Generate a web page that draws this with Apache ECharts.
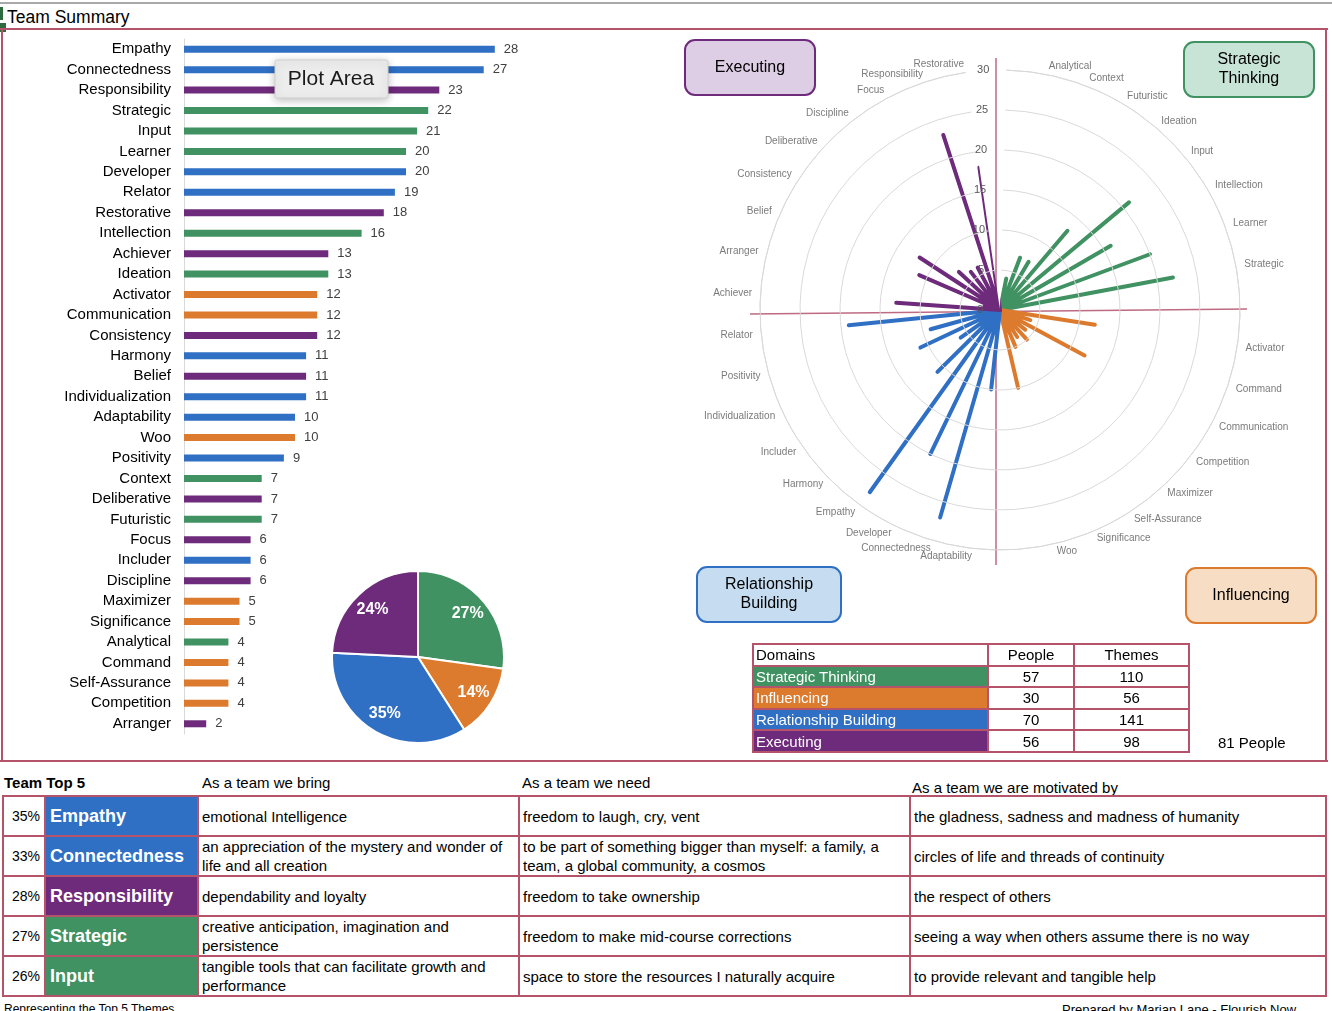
<!DOCTYPE html>
<html><head><meta charset="utf-8">
<script src="https://cdn.jsdelivr.net/npm/echarts@6/dist/echarts.min.js"></script>
<style>
html,body{margin:0;padding:0;background:#fff;font-family:'Liberation Sans',Arial,sans-serif;color:#000;}
#wrap{position:relative;width:1332px;height:1011px;overflow:hidden;background:#fff;}
#chart{position:absolute;left:0;top:0;width:1332px;height:770px;}
.abs{position:absolute;}
table{border-collapse:collapse;table-layout:fixed;}
#dom td{border:2px solid #B4536A;font-size:15px;height:19.6px;padding:0 2px;line-height:19px;white-space:nowrap;overflow:hidden;}
#top5 td{border:2px solid #B4536A;font-size:15px;height:38px;padding:0 3px;line-height:19px;vertical-align:middle;}
#top5 td.pct{text-align:right;font-size:14px;padding-right:4px;}
#top5 td.nm{color:#fff;font-weight:bold;font-size:18px;padding-left:4px;}
</style></head>
<body><div id="wrap">
<div class="abs" style="left:0;top:2px;width:1332px;height:2px;background:#A9A9A9"></div>
<div class="abs" style="left:0;top:7px;width:3px;height:13px;background:#2E6B3F"></div>
<div class="abs" style="left:0;top:23px;width:6px;height:9px;background:#2E6B3F"></div>
<div class="abs" style="left:7px;top:7px;font-size:17.5px;">Team Summary</div>
<div class="abs" style="left:0;top:28px;width:1328px;height:2px;background:#B4536A"></div>
<div class="abs" style="left:1px;top:28px;width:2px;height:733px;background:#B4536A"></div>
<div class="abs" style="left:1325px;top:28px;width:2px;height:733px;background:#B4536A"></div>
<div class="abs" style="left:0;top:760px;width:1328px;height:2px;background:#B4536A"></div>
<div id="chart"></div>
<table id="dom" class="abs" style="left:752px;top:643px;width:436px;"></table>
<div class="abs" style="left:1218px;top:734px;font-size:15px;">81 People</div>
<div class="abs" style="left:4px;top:774px;font-size:15px;font-weight:bold;">Team Top 5</div>
<div class="abs" style="left:202px;top:774px;font-size:15px;">As a team we bring</div>
<div class="abs" style="left:522px;top:774px;font-size:15px;">As a team we need</div>
<div class="abs" style="left:912px;top:779px;font-size:15px;">As a team we are motivated by</div>
<table id="top5" class="abs" style="left:2px;top:795px;width:1325px;"></table>
<div class="abs" style="left:4px;top:1002px;font-size:12px;">Representing the Top 5 Themes</div>
<div class="abs" style="left:1062px;top:1002px;font-size:13px;">Prepared by Marian Lane - Flourish Now</div>
</div>
<script>
// ---- data ----
const barThemes = ['Empathy','Connectedness','Responsibility','Strategic','Input','Learner','Developer','Relator','Restorative','Intellection','Achiever','Ideation','Activator','Communication','Consistency','Harmony','Belief','Individualization','Adaptability','Woo','Positivity','Context','Deliberative','Futuristic','Focus','Includer','Discipline','Maximizer','Significance','Analytical','Command','Self-Assurance','Competition','Arranger'];
const barValues = [28,27,23,22,21,20,20,19,18,16,13,13,12,12,12,11,11,11,10,10,9,7,7,7,6,6,6,5,5,4,4,4,4,2];
const barDomains = ['RB','RB','EX','ST','ST','ST','RB','RB','EX','ST','EX','ST','IN','IN','EX','RB','EX','RB','RB','IN','RB','ST','EX','ST','EX','RB','EX','IN','IN','ST','IN','IN','IN','EX'];
const radarCategories = ['','Analytical','Context','Futuristic','Ideation','Input','Intellection','Learner','Strategic',' ','Activator','Command','Communication','Competition','Maximizer','Self-Assurance','Significance','Woo','  ','Adaptability','Connectedness','Developer','Empathy','Harmony','Includer','Individualization','Positivity','Relator','Achiever','Arranger','Belief','Consistency','Deliberative','Discipline','Focus','Responsibility','Restorative'];
const radiusTicks = [0,5,10,15,20,25,30];
const domainKeys = ['ST','IN','RB','EX'];
const domainNames = ['Strategic Thinking','Influencing','Relationship Building','Executing'];
const domainPeople = [57,30,70,56];
const domainThemes = [110,56,141,98];
const totalPeople = 81;
const top5Pct = ['35%','33%','28%','27%','26%'];
const top5Names = ['Empathy','Connectedness','Responsibility','Strategic','Input'];
const top5Domain = ['RB','RB','EX','ST','ST'];
const top5Bring = ['emotional Intelligence','an appreciation of the mystery and wonder of life and all creation','dependability and loyalty','creative anticipation, imagination and persistence','tangible tools that can facilitate growth and performance'];
const top5Need = ['freedom to laugh, cry, vent','to be part of something bigger than myself: a family, a team, a global community, a cosmos','freedom to take ownership','freedom to make mid-course corrections','space to store the resources I naturally acquire'];
const top5Motivated = ['the gladness, sadness and madness of humanity','circles of life and threads of continuity','the respect of others','seeing a way when others assume there is no way','to provide relevant and tangible help'];

// ---- styles ----
const COL = {ST:'#409262', IN:'#DC7A2E', RB:'#2F6FC4', EX:'#6E2B7B'};
const LABEL_R = 31;

// tables
const dom = document.getElementById('dom');
let h = '<colgroup><col style="width:235px"><col style="width:86px"><col style="width:115px"></colgroup>';
h += '<tr><td>Domains</td><td style="text-align:center">People</td><td style="text-align:center">Themes</td></tr>';
domainKeys.forEach((k,i)=>{
  h += `<tr><td style="background:${COL[k]};color:#fff">${domainNames[i]}</td><td style="text-align:center">${domainPeople[i]}</td><td style="text-align:center">${domainThemes[i]}</td></tr>`;
});
dom.innerHTML = h;
const t5 = document.getElementById('top5');
let h2 = '';
top5Names.forEach((n,i)=>{
  h2 += `<tr><td class="pct" style="width:33px">${top5Pct[i]}</td><td class="nm" style="width:144px;background:${COL[top5Domain[i]]}">${n}</td><td style="width:313px">${top5Bring[i]}</td><td style="width:383px">${top5Need[i]}</td><td>${top5Motivated[i]}</td></tr>`;
});
t5.innerHTML = h2;

// ---- chart ----
const chart = echarts.init(document.getElementById('chart'), null, {renderer:'canvas'});
const valueOf = {}; const domOf = {};
barThemes.forEach((t,i)=>{valueOf[t]=barValues[i]; domOf[t]=barDomains[i];});

const polarSeries = domainKeys.map(k=>{
  const d = [];
  radarCategories.forEach((c,idx)=>{
    if (domOf[c]===k){ d.push([0,idx]); d.push([valueOf[c],idx]); }
  });
  return {type:'line', coordinateSystem:'polar', data:d, symbol:'none', silent:true, clip:false,
    lineStyle:{color:COL[k], width:4, cap:'round', join:'round'}, z:3};
});
const half = radarCategories.length/2;
const labelData = [];
radarCategories.forEach((c,idx)=>{
  if (c.trim()) labelData.push({value:[LABEL_R, idx], name:c,
    label:{position: idx < half ? 'right' : 'left'}});
});
const labelSeries = {
  type:'scatter', coordinateSystem:'polar', symbol:'circle', symbolSize:1, silent:true, clip:false, z:4,
  itemStyle:{color:'rgba(0,0,0,0)'},
  data: labelData,
  label:{show:true, distance:0, formatter:p=>p.name, color:'#595959', fontSize:10, verticalAlign:'middle'},
  labelLayout:{hideOverlap:false}
};

function box(x,y,w,hgt,fill,stroke,text){
  return [
    {type:'rect', shape:{x:x,y:y,width:w,height:hgt,r:10}, style:{fill:fill, stroke:stroke, lineWidth:2}, z:10},
    {type:'text', x:x+w/2, y:y+hgt/2, style:{text:text, fill:'#000', font:'16px "Liberation Sans", Arial', align:'center', verticalAlign:'middle', lineHeight:19}, z:11}
  ];
}

const option = {
  animation:false,
  textStyle:{fontFamily:'"Liberation Sans", Arial, sans-serif'},
  grid:{left:184, top:39, width:333, height:695, containLabel:false},
  xAxis:{type:'value', min:0, max:30, show:false},
  yAxis:{type:'category', data:barThemes, inverse:true,
    axisLine:{show:true, lineStyle:{color:'#D9D9D9'}}, axisTick:{show:false},
    axisLabel:{color:'#000', fontSize:15, margin:13, interval:0}},
  polar:{center:[1000,310], radius:240},
  angleAxis:{type:'category', data:radarCategories, startAngle:88.5, clockwise:true, boundaryGap:false,
    axisLine:{show:true, lineStyle:{color:'#D9D9D9'}}, axisTick:{show:false}, splitLine:{show:false},
    axisLabel:{show:false}},
  radiusAxis:{type:'value', min:0, max:30, interval:5, axisLine:{show:false}, axisTick:{show:false},
    splitLine:{show:true, lineStyle:{color:'#D9D9D9'}},
    axisLabel:{color:'#595959', fontSize:11, margin:17, showMinLabel:true}, z:8},
  series:[
    {type:'bar', data:barValues.map((v,i)=>({value:v, itemStyle:{color:COL[barDomains[i]]}})), barWidth:7,
     label:{show:true, position:'right', distance:9, color:'#404040', fontSize:13}, silent:true},
    {type:'pie', center:[418,657], radius:86, startAngle:90, clockwise:true, silent:true,
     data:domainThemes.map((v,i)=>({value:v, name:domainNames[i], itemStyle:{color:COL[domainKeys[i]]}})),
     itemStyle:{borderColor:'#fff', borderWidth:2}, label:{show:false}, labelLine:{show:false}},
    {type:'pie', center:[418,657], radius:[44,82], startAngle:90, clockwise:true, silent:true,
     data:domainThemes.map((v,i)=>({value:v, name:domainNames[i]})),
     itemStyle:{color:'rgba(0,0,0,0)', borderWidth:0},
     label:{show:true, position:'inside', color:'#fff', fontSize:16, fontWeight:'bold', formatter:p=>Math.round(p.percent)+'%'}, labelLine:{show:false}},
    labelSeries
  ].concat(polarSeries),
  graphic:[
    {type:'line', shape:{x1:996,y1:58,x2:996,y2:565}, style:{stroke:'#BD6A82', lineWidth:1.5}, z:2},
    {type:'line', shape:{x1:750,y1:314,x2:1247,y2:309}, style:{stroke:'#BD6A82', lineWidth:1.5}, z:2},
    {type:'rect', shape:{x:275,y:60,width:113,height:38,r:2}, style:{fill:'#EDEDED', stroke:'#CFCFCF', lineWidth:1, shadowBlur:8, shadowColor:'rgba(0,0,0,0.25)', shadowOffsetY:2}, z:20},
    {type:'text', x:331, y:79, style:{text:'Plot Area', fill:'#1a1a1a', font:'21px "Liberation Sans", Arial', align:'center', verticalAlign:'middle'}, z:21}
  ].concat(box(685,40,130,55,'#DDCDE5',COL.EX,'Executing'))
   .concat(box(1184,42,130,55,'#C8E4D7',COL.ST,'Strategic\nThinking'))
   .concat(box(697,567,144,55,'#C6DCF1',COL.RB,'Relationship\nBuilding'))
   .concat(box(1186,568,130,55,'#F6DDC4',COL.IN,'Influencing'))
};
chart.setOption(option);
</script>
</body></html>
